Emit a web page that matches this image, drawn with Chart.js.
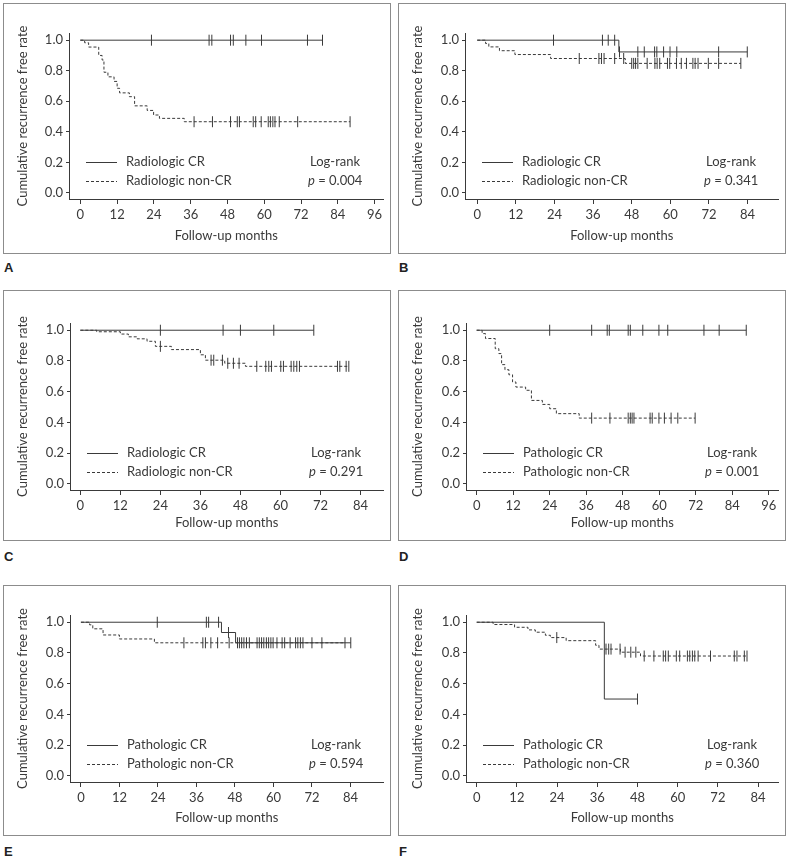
<!DOCTYPE html>
<html>
<head>
<meta charset="utf-8">
<script src="https://cdn.jsdelivr.net/npm/chart.js@4.4.0/dist/chart.umd.min.js"></script>
<style>
  body { margin: 0; background: #fff; width: 792px; height: 856px; position: relative; overflow: hidden; }
  .panel { position: absolute; width: 388px; height: 251px; border: 1px solid #8c8c8c; box-sizing: border-box; }
  .panel canvas { position: absolute; left: 0; top: 0; }
  .tag { position: absolute; font: bold 13px 'Liberation Sans', sans-serif; color: #222; line-height: 13px; }
</style>
</head>
<body>
<div class="panel" style="left:3px;top:3px"><canvas id="cA" width="386" height="249"></canvas></div>
<div class="panel" style="left:398px;top:3px"><canvas id="cB" width="386" height="249"></canvas></div>
<div class="panel" style="left:3px;top:290px"><canvas id="cC" width="386" height="249"></canvas></div>
<div class="panel" style="left:398px;top:290px"><canvas id="cD" width="386" height="249"></canvas></div>
<div class="panel" style="left:3px;top:585px"><canvas id="cE" width="386" height="249"></canvas></div>
<div class="panel" style="left:398px;top:585px"><canvas id="cF" width="386" height="249"></canvas></div>
<div class="tag" style="left:4px;top:261px">A</div>
<div class="tag" style="left:399px;top:261px">B</div>
<div class="tag" style="left:4px;top:550px">C</div>
<div class="tag" style="left:399px;top:550px">D</div>
<div class="tag" style="left:4px;top:845px">E</div>
<div class="tag" style="left:399px;top:845px">F</div>
<script>
const ink = "#3a3a3a";
const fontFamily = "Lato, 'Open Sans', sans-serif";

// tick labels
const xTicks96 = [0, 12, 24, 36, 48, 60, 72, 84, 96];
const xTicks84 = [0, 12, 24, 36, 48, 60, 72, 84];
const yTicks = [0, 0.2, 0.4, 0.6, 0.8, 1.0];

// A: radiologic CR vs non-CR  ([month, survival after event], censored months)
const aCrEvents = [];
const aCrCensored = [23.2, 42.0, 42.9, 49.0, 49.9, 54.0, 59.1, 74.1, 79.0];
const aNonEvents = [[1.4, 0.983], [2.7, 0.955], [6.0, 0.90], [7.1, 0.87], [7.7, 0.79], [9.0, 0.76], [11.0, 0.73], [12.0, 0.685], [12.8, 0.655], [16.0, 0.63], [17.7, 0.57], [21.8, 0.54], [23.9, 0.51], [25.8, 0.488], [33.9, 0.466]];
const aNonCensored = [37.1, 43.1, 49.0, 51.2, 51.9, 56.4, 57.2, 59.0, 61.3, 62.0, 62.8, 63.5, 64.9, 70.9, 88.0];

// B
const bCrEvents = [[44.0, 0.923]];
const bCrCensored = [23.7, 38.9, 40.7, 42.7, 44.2, 49.9, 51.9, 55.1, 55.8, 57.9, 59.9, 62.0, 75.0, 83.9];
const bNonEvents = [[2.6, 0.978], [3.6, 0.956], [6.9, 0.931], [11.7, 0.906], [22.8, 0.880], [46.0, 0.848]];
const bNonCensored = [31.7, 37.8, 38.6, 39.4, 42.7, 45.5, 48.0, 48.6, 49.2, 49.9, 52.8, 55.2, 55.9, 56.7, 59.1, 59.8, 61.9, 63.4, 65.0, 67.0, 67.7, 68.6, 71.8, 75.0, 81.9];

// C
const cCrEvents = [];
const cCrCensored = [24.0, 42.8, 48.0, 58.0, 70.0];
const cNonEvents = [[4.9, 0.99], [12.0, 0.975], [14.4, 0.957], [17.0, 0.944], [20.0, 0.928], [22.5, 0.895], [27.3, 0.874], [36.0, 0.84], [37.5, 0.805], [43.3, 0.785], [49.5, 0.765]];
const cNonCensored = [24.0, 39.2, 40.0, 42.6, 44.2, 45.9, 47.6, 52.9, 55.6, 56.5, 57.3, 60.1, 60.9, 63.2, 64.0, 64.9, 65.7, 77.1, 77.8, 79.7, 80.5];

// D: pathologic
const dCrEvents = [];
const dCrCensored = [24.0, 37.8, 42.9, 43.6, 49.8, 50.5, 54.6, 59.9, 62.8, 74.7, 79.7, 88.6];
const dNonEvents = [[1.8, 0.978], [2.9, 0.946], [6.1, 0.88], [7.3, 0.848], [8.2, 0.776], [9.3, 0.743], [10.6, 0.71], [11.8, 0.663], [12.9, 0.63], [16.1, 0.609], [18.0, 0.543], [21.6, 0.517], [24.0, 0.489], [26.2, 0.457], [33.7, 0.428]];
const dNonCensored = [37.8, 43.8, 49.8, 50.5, 51.1, 51.7, 57.0, 57.7, 59.9, 61.7, 63.9, 66.1, 71.8];

// E
const eCrEvents = [[43.8, 0.933], [48.2, 0.866]];
const eCrCensored = [23.8, 39.1, 39.8, 42.9, 46.0, 50.1, 54.9, 57.0, 59.9, 63.5, 67.6, 72.0, 84.1];
const eNonEvents = [[2.7, 0.983], [3.7, 0.957], [6.9, 0.917], [12.0, 0.891], [22.9, 0.866]];
const eNonCensored = [32.1, 38.0, 38.8, 40.5, 42.6, 46.2, 48.8, 49.4, 50.8, 51.6, 52.5, 55.6, 56.3, 57.8, 58.5, 59.2, 61.1, 62.7, 65.2, 66.9, 68.4, 69.2, 75.1, 82.3];

// F
const fCrEvents = [[38.1, 0.5]];
const fCrCensored = [48.0];
const fNonEvents = [[4.9, 0.985], [11.3, 0.967], [15.3, 0.95], [17.5, 0.935], [20.5, 0.915], [22.0, 0.9], [26.7, 0.88], [35.5, 0.85], [36.5, 0.825], [42.9, 0.805], [48.9, 0.78]];
const fNonCensored = [23.9, 38.6, 39.4, 40.1, 42.8, 44.3, 46.0, 47.5, 50.0, 52.9, 55.7, 56.4, 57.2, 59.6, 60.6, 62.9, 63.6, 64.4, 65.1, 66.1, 69.8, 76.9, 77.7, 79.9, 80.7];

function kmLine(events, censored) {
  const end = Math.max(...censored, ...events.map(e => e[0]));
  const pts = [{x: 0, y: 1}];
  events.forEach(([t, s]) => pts.push({x: t, y: s}));
  pts.push({x: end, y: events.length ? events[events.length - 1][1] : 1});
  return pts;
}

function survivalAt(events, t) {
  let s = 1;
  events.forEach(([et, es]) => { if (et <= t) s = es; });
  return s;
}

function kmMarks(events, censored) {
  return censored.map(t => ({x: t, y: survivalAt(events, t)}));
}

// legend + log-rank text, drawn inside the plot
const kmText = {
  id: "kmText",
  afterDraw(chart, args, opts) {
    const {ctx, chartArea, scales} = chart;
    const x0 = chartArea.left;
    const y1 = Math.round(scales.y.getPixelForValue(0.2));
    const y2 = y1 + 19;
    ctx.save();
    ctx.strokeStyle = ink;
    ctx.lineWidth = 1;
    ctx.beginPath(); ctx.moveTo(x0 + 17, y1 + 0.5); ctx.lineTo(x0 + 48, y1 + 0.5); ctx.stroke();
    ctx.setLineDash([3, 2]);
    ctx.beginPath(); ctx.moveTo(x0 + 17, y2 + 0.5); ctx.lineTo(x0 + 48, y2 + 0.5); ctx.stroke();
    ctx.setLineDash([]);
    ctx.fillStyle = ink;
    ctx.textBaseline = "middle";
    ctx.font = "13px " + fontFamily;
    ctx.fillText(opts.group + " CR", x0 + 57, y1);
    ctx.fillText(opts.group + " non-CR", x0 + 57, y2);
    ctx.fillText("Log-rank", x0 + 241, y1);
    ctx.font = "italic 13px " + fontFamily;
    ctx.fillText("p", x0 + 239, y2);
    const w = ctx.measureText("p").width;
    ctx.font = "13px " + fontFamily;
    ctx.fillText(" = " + opts.p, x0 + 239 + w, y2);
    ctx.restore();
  }
};

function drawPanel(id, p) {
  const canvas = document.getElementById(id);
  const W = canvas.width, H = canvas.height;
  const markStyle = {
    type: "scatter", showLine: false, pointStyle: "line", rotation: 90,
    pointRadius: 5.5, pointHoverRadius: 5.5, borderColor: ink, borderWidth: 1
  };
  new Chart(canvas, {
    type: "scatter",
    data: {
      datasets: [
        {data: kmLine(p.nonEvents, p.nonCensored), showLine: true, stepped: true, borderColor: ink, borderWidth: 1, borderDash: [3, 2], pointRadius: 0},
        Object.assign({data: kmMarks(p.nonEvents, p.nonCensored)}, markStyle),
        {data: kmLine(p.crEvents, p.crCensored), showLine: true, stepped: true, borderColor: ink, borderWidth: 1, pointRadius: 0},
        Object.assign({data: kmMarks(p.crEvents, p.crCensored)}, markStyle)
      ]
    },
    options: {
      responsive: false,
      animation: false,
      layout: {padding: {top: p.top, right: W - p.right, left: 0, bottom: 0}},
      plugins: {legend: {display: false}, tooltip: {enabled: false}, kmText: {group: p.group, p: p.pValue}},
      scales: {
        x: {
          type: "linear", min: p.xMin, max: p.xMax,
          afterBuildTicks: s => { s.ticks = p.xTicks.map(v => ({value: v})); },
          afterFit: s => { s.height = H - p.bottom; },
          grid: {drawOnChartArea: false, drawTicks: true, tickLength: 5, color: ink},
          border: {display: true, color: ink, width: 1},
          ticks: {color: ink, font: {family: fontFamily, size: 13}, padding: 3, maxRotation: 0, autoSkip: false},
          title: {display: true, text: "Follow-up months", color: ink, font: {family: fontFamily, size: 13}, padding: {top: 0, bottom: 9}}
        },
        y: {
          type: "linear", min: -0.04, max: 1.047,
          afterBuildTicks: s => { s.ticks = yTicks.map(v => ({value: v})); },
          afterFit: s => { s.width = p.left; },
          grid: {drawOnChartArea: false, drawTicks: true, tickLength: 3, color: ink},
          border: {display: true, color: ink, width: 1},
          ticks: {color: ink, font: {family: fontFamily, size: 13}, padding: 3, callback: v => v.toFixed(1)},
          title: {display: true, text: "Cumulative recurrence free rate", color: ink, font: {family: fontFamily, size: 13}, padding: {top: 11, bottom: 0}}
        }
      }
    },
    plugins: [kmText]
  });
}

drawPanel("cA", {group: "Radiologic", pValue: "0.004", xTicks: xTicks96, xMin: -3.7, xMax: 98.9, left: 65, top: 29, right: 381, bottom: 195,
  crEvents: aCrEvents, crCensored: aCrCensored, nonEvents: aNonEvents, nonCensored: aNonCensored});
drawPanel("cB", {group: "Radiologic", pValue: "0.341", xTicks: xTicks84, xMin: -3.8, xMax: 93.6, left: 66, top: 29, right: 382, bottom: 195,
  crEvents: bCrEvents, crCensored: bCrCensored, nonEvents: bNonEvents, nonCensored: bNonCensored});
drawPanel("cC", {group: "Radiologic", pValue: "0.291", xTicks: xTicks84, xMin: -3.1, xMax: 90.9, left: 66, top: 32, right: 383, bottom: 199,
  crEvents: cCrEvents, crCensored: cCrCensored, nonEvents: cNonEvents, nonCensored: cNonCensored});
drawPanel("cD", {group: "Pathologic", pValue: "0.001", xTicks: xTicks96, xMin: -3.5, xMax: 99.2, left: 67, top: 32, right: 383, bottom: 199,
  crEvents: dCrEvents, crCensored: dCrCensored, nonEvents: dNonEvents, nonCensored: dNonCensored});
drawPanel("cE", {group: "Pathologic", pValue: "0.594", xTicks: xTicks84, xMin: -3.4, xMax: 94.3, left: 66, top: 29, right: 382, bottom: 196,
  crEvents: eCrEvents, crCensored: eCrCensored, nonEvents: eNonEvents, nonCensored: eNonCensored});
drawPanel("cF", {group: "Pathologic", pValue: "0.360", xTicks: xTicks84, xMin: -3.2, xMax: 90.1, left: 67, top: 29, right: 382, bottom: 196,
  crEvents: fCrEvents, crCensored: fCrCensored, nonEvents: fNonEvents, nonCensored: fNonCensored});
</script>
</body>
</html>
